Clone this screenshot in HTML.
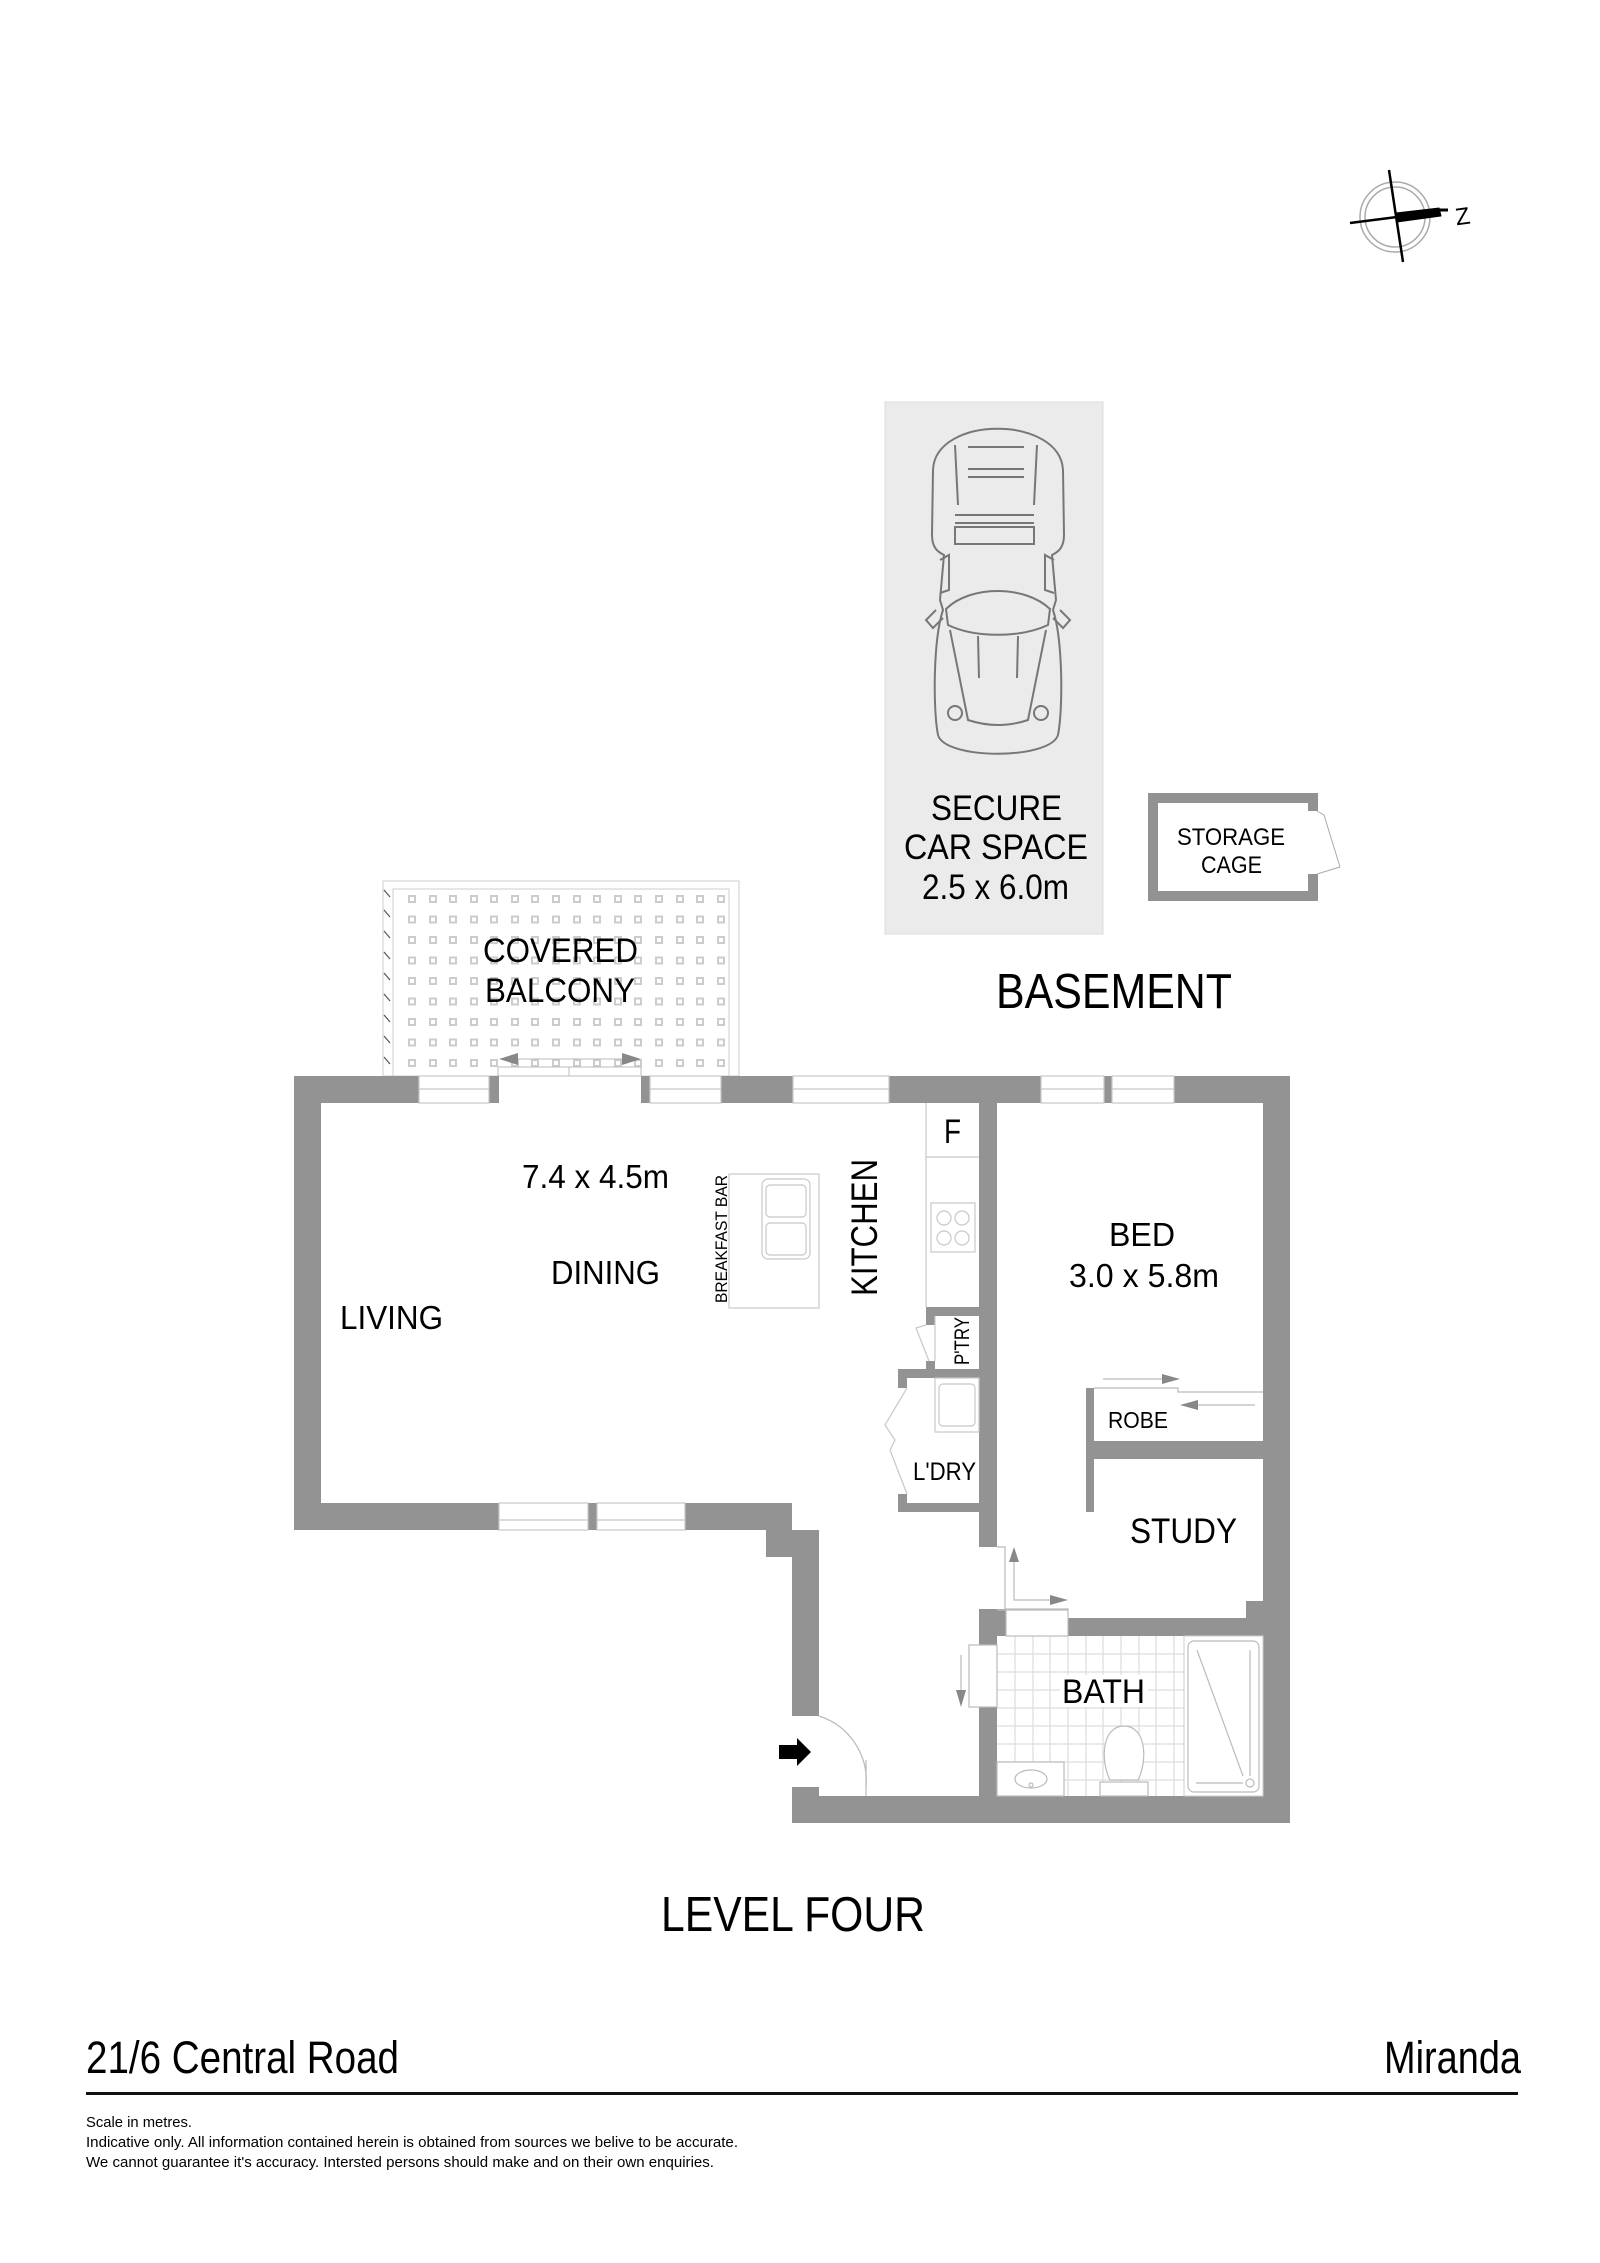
<!DOCTYPE html>
<html><head><meta charset="utf-8"><style>
html,body{margin:0;padding:0;background:#fff;}
svg{display:block;}
text{font-family:"Liberation Sans",sans-serif;fill:#000;}
</style></head><body>
<svg width="1600" height="2263" viewBox="0 0 1600 2263" xmlns="http://www.w3.org/2000/svg">
<!-- Compass -->
<g stroke="#000" fill="none">
<circle cx="1395" cy="217" r="35" stroke="#aaa" stroke-width="1.5"/>
<circle cx="1395" cy="217" r="30" stroke="#aaa" stroke-width="1.5"/>
<line x1="1389" y1="170" x2="1403" y2="262" stroke-width="2.5"/>
<line x1="1350" y1="223" x2="1397" y2="217" stroke-width="2.5"/>
<polygon points="1396,213 1439,208 1441,216 1397,222" fill="#000"/>
<line x1="1439" y1="210" x2="1448" y2="210" stroke-width="3"/>
</g>
<text x="1455" y="224" font-size="24" transform="rotate(-8 1466 214)">Z</text>

<!-- Car space -->
<rect x="885" y="402" width="218" height="532" fill="#ebebeb" stroke="#ddd"/>
<g fill="none" stroke="#777" stroke-width="2">
<path d="M933,470 C935,415 1060,415 1063,470 L1064,535 C1064,548 1058,552 1052,555 L1056,600 L1053,610 C1063,640 1063,710 1058,735 C1050,760 945,760 938,735 C933,710 933,640 943,610 L940,600 L944,555 C938,552 932,548 932,535 Z"/>
<path d="M946,609 C970,585 1025,585 1050,609 L1048,625 C1020,638 975,638 948,625 Z"/>
<path d="M950,630 L968,720 Q998,730 1028,720 L1046,630"/>
<line x1="978" y1="636" x2="979" y2="678"/><line x1="1018" y1="636" x2="1017" y2="678"/>
<circle cx="955" cy="713" r="7"/><circle cx="1041" cy="713" r="7"/>
<line x1="968" y1="447" x2="1024" y2="447"/><line x1="968" y1="469" x2="1024" y2="469"/><line x1="968" y1="477" x2="1024" y2="477"/>
<line x1="955" y1="445" x2="958" y2="505"/><line x1="1037" y1="445" x2="1034" y2="505"/>
<line x1="955" y1="515" x2="1034" y2="515"/><line x1="955" y1="523" x2="1034" y2="523"/>
<rect x="955" y="527" width="79" height="17"/>
<path d="M940,560 L949,555 L949,590 L940,593"/><path d="M1054,560 L1045,555 L1045,590 L1054,593"/>
<path d="M936,610 L926,620 L933,628 L943,618"/><path d="M1060,610 L1070,620 L1063,628 L1053,618"/>
</g>
<text x="931" y="820" font-size="35" textLength="131" lengthAdjust="spacingAndGlyphs">SECURE</text>
<text x="904" y="859" font-size="35" textLength="184" lengthAdjust="spacingAndGlyphs">CAR SPACE</text>
<text x="922" y="899" font-size="35" textLength="147" lengthAdjust="spacingAndGlyphs">2.5 x 6.0m</text>

<!-- Storage cage -->
<path d="M1313,811 L1313,798 L1153,798 L1153,896 L1313,896 L1313,874" fill="none" stroke="#929292" stroke-width="10"/>
<polyline points="1317,811 1324,815 1340,867 1317,874" fill="none" stroke="#aaa" stroke-width="1"/>
<text x="1177" y="845" font-size="24" textLength="108" lengthAdjust="spacingAndGlyphs">STORAGE</text>
<text x="1201" y="873" font-size="24" textLength="61" lengthAdjust="spacingAndGlyphs">CAGE</text>

<text x="996" y="1008" font-size="49" textLength="236" lengthAdjust="spacingAndGlyphs">BASEMENT</text>

<!-- Balcony -->
<rect x="383" y="881" width="356" height="195" fill="#fff" stroke="#ccc" stroke-width="1"/>
<rect x="393" y="889" width="336" height="187" fill="none" stroke="#ccc" stroke-width="1"/>
<g stroke="#555" stroke-width="1.2">
<line x1="384" y1="890" x2="390" y2="897"/><line x1="384" y1="910" x2="390" y2="917"/><line x1="384" y1="931" x2="390" y2="938"/><line x1="384" y1="952" x2="390" y2="959"/><line x1="384" y1="973" x2="390" y2="980"/><line x1="384" y1="994" x2="390" y2="1001"/><line x1="384" y1="1015" x2="390" y2="1022"/><line x1="384" y1="1036" x2="390" y2="1043"/><line x1="384" y1="1057" x2="390" y2="1064"/>
</g>
<g fill="none" stroke="#ccc" stroke-width="2">
<path id="sqrow" d="M409,896h6v6h-6zM430,896h6v6h-6zM450,896h6v6h-6zM471,896h6v6h-6zM491,896h6v6h-6zM512,896h6v6h-6zM532,896h6v6h-6zM553,896h6v6h-6zM574,896h6v6h-6zM594,896h6v6h-6zM615,896h6v6h-6zM635,896h6v6h-6zM656,896h6v6h-6zM677,896h6v6h-6zM697,896h6v6h-6zM718,896h6v6h-6z"/>
<use href="#sqrow" y="20.5"/><use href="#sqrow" y="41"/><use href="#sqrow" y="61.5"/><use href="#sqrow" y="82"/><use href="#sqrow" y="102.5"/><use href="#sqrow" y="123"/><use href="#sqrow" y="143.5"/><use href="#sqrow" y="164"/>
</g>
<text x="483" y="962" font-size="34" textLength="155" lengthAdjust="spacingAndGlyphs">COVERED</text>
<text x="485" y="1002" font-size="34" textLength="150" lengthAdjust="spacingAndGlyphs">BALCONY</text>
<rect x="498" y="1067" width="143" height="9" fill="#fff" stroke="#bbb" stroke-width="1"/>
<line x1="569" y1="1067" x2="569" y2="1076" stroke="#bbb"/>
<line x1="515" y1="1059" x2="625" y2="1059" stroke="#bbb"/>
<polygon points="499,1059 518,1053 518,1065" fill="#888"/>
<polygon points="641,1059 622,1053 622,1065" fill="#888"/>

<!-- Tiles in bath -->
<rect x="997" y="1636" width="187" height="160" fill="#fff"/>
<g stroke="#ddd" stroke-width="1.2">
<line x1="1015" y1="1636" x2="1015" y2="1796"/><line x1="1033" y1="1636" x2="1033" y2="1796"/><line x1="1050" y1="1636" x2="1050" y2="1796"/><line x1="1068" y1="1636" x2="1068" y2="1796"/><line x1="1086" y1="1636" x2="1086" y2="1796"/><line x1="1103" y1="1636" x2="1103" y2="1796"/><line x1="1121" y1="1636" x2="1121" y2="1796"/><line x1="1139" y1="1636" x2="1139" y2="1796"/><line x1="1156" y1="1636" x2="1156" y2="1796"/><line x1="1174" y1="1636" x2="1174" y2="1796"/>
<line x1="997" y1="1654" x2="1184" y2="1654"/><line x1="997" y1="1672" x2="1184" y2="1672"/><line x1="997" y1="1690" x2="1184" y2="1690"/><line x1="997" y1="1708" x2="1184" y2="1708"/><line x1="997" y1="1726" x2="1184" y2="1726"/><line x1="997" y1="1744" x2="1184" y2="1744"/><line x1="997" y1="1762" x2="1184" y2="1762"/><line x1="997" y1="1780" x2="1184" y2="1780"/>
</g>
<rect x="1060" y="1675" width="88" height="32" fill="#fff"/>

<!-- Walls -->
<g fill="#939393">
<rect x="294" y="1076" width="125" height="27"/>
<rect x="489" y="1076" width="10" height="27"/>
<rect x="641" y="1076" width="9" height="27"/>
<rect x="721" y="1076" width="72" height="27"/>
<rect x="889" y="1076" width="152" height="27"/>
<rect x="1104" y="1076" width="8" height="27"/>
<rect x="1174" y="1076" width="116" height="27"/>
<rect x="294" y="1076" width="27" height="454"/>
<rect x="294" y="1503" width="205" height="27"/>
<rect x="588" y="1503" width="9" height="27"/>
<rect x="685" y="1503" width="107" height="27"/>
<rect x="766" y="1503" width="26" height="54"/>
<rect x="792" y="1530" width="27" height="186"/>
<rect x="792" y="1787" width="27" height="36"/>
<rect x="819" y="1796" width="471" height="27"/>
<rect x="1263" y="1076" width="27" height="747"/>
<rect x="979" y="1076" width="18" height="471"/>
<rect x="979" y="1609" width="27" height="27"/>
<rect x="979" y="1636" width="18" height="9"/>
<rect x="979" y="1707" width="18" height="89"/>
<rect x="926" y="1307" width="53" height="9"/>
<rect x="926" y="1307" width="9" height="18"/>
<rect x="926" y="1361" width="9" height="9"/>
<rect x="898" y="1369" width="81" height="9"/>
<rect x="898" y="1369" width="9" height="19"/>
<rect x="898" y="1494" width="9" height="18"/>
<rect x="898" y="1503" width="81" height="9"/>
<rect x="1086" y="1388" width="8" height="124"/>
<rect x="1086" y="1441" width="177" height="18"/>
<rect x="1068" y="1618" width="195" height="18"/>
<rect x="1246" y="1601" width="17" height="17"/>
</g>

<!-- windows -->
<g fill="none" stroke="#c8c8c8" stroke-width="1.2">
<rect x="419" y="1076" width="70" height="27"/><line x1="419" y1="1089" x2="489" y2="1089"/>
<rect x="650" y="1076" width="71" height="27"/><line x1="650" y1="1089" x2="721" y2="1089"/>
<rect x="793" y="1076" width="96" height="27"/><line x1="793" y1="1089" x2="889" y2="1089"/>
<rect x="1041" y="1076" width="63" height="27"/><line x1="1041" y1="1089" x2="1104" y2="1089"/>
<rect x="1112" y="1076" width="62" height="27"/><line x1="1112" y1="1089" x2="1174" y2="1089"/>
<rect x="499" y="1503" width="89" height="27"/><line x1="499" y1="1520" x2="588" y2="1520"/>
<rect x="597" y="1503" width="88" height="27"/><line x1="597" y1="1520" x2="685" y2="1520"/>
</g>

<!-- Kitchen -->
<g fill="none" stroke="#c8c8c8" stroke-width="1.2">
<line x1="926" y1="1103" x2="926" y2="1307"/>
<line x1="926" y1="1157" x2="979" y2="1157"/>
<rect x="931" y="1203" width="44" height="49"/>
<circle cx="944" cy="1218" r="7"/><circle cx="962" cy="1218" r="7"/><circle cx="944" cy="1238" r="7"/><circle cx="962" cy="1238" r="7"/>
<rect x="729" y="1174" width="90" height="134"/>
<rect x="762" y="1179" width="48" height="80" rx="6"/>
<rect x="766" y="1185" width="40" height="32" rx="4"/>
<rect x="766" y="1223" width="40" height="32" rx="4"/>
<rect x="935" y="1378" width="44" height="54"/>
<rect x="939" y="1384" width="36" height="42" rx="4"/>
<polyline points="926,1325 916,1328 929,1361"/>
<polyline points="907,1388 885,1425 895,1440 890,1450 907,1494"/>
<line x1="935" y1="1316" x2="935" y2="1361"/>
</g>
<text x="944" y="1143" font-size="34" textLength="17" lengthAdjust="spacingAndGlyphs">F</text>
<text transform="translate(727,1303) rotate(-90)" font-size="17" textLength="128" lengthAdjust="spacingAndGlyphs">BREAKFAST BAR</text>
<text transform="translate(877,1296) rotate(-90)" font-size="37" textLength="137" lengthAdjust="spacingAndGlyphs">KITCHEN</text>
<text transform="translate(969,1365) rotate(-90)" font-size="21" textLength="48" lengthAdjust="spacingAndGlyphs">P'TRY</text>
<text x="913" y="1480" font-size="25" textLength="63" lengthAdjust="spacingAndGlyphs">L'DRY</text>

<text x="522" y="1188" font-size="33" textLength="147" lengthAdjust="spacingAndGlyphs">7.4 x 4.5m</text>
<text x="551" y="1284" font-size="33" textLength="109" lengthAdjust="spacingAndGlyphs">DINING</text>
<text x="340" y="1329" font-size="33" textLength="103" lengthAdjust="spacingAndGlyphs">LIVING</text>

<!-- Bed -->
<text x="1109" y="1246" font-size="33" textLength="66" lengthAdjust="spacingAndGlyphs">BED</text>
<text x="1069" y="1287" font-size="33" textLength="150" lengthAdjust="spacingAndGlyphs">3.0 x 5.8m</text>
<g stroke="#bbb" stroke-width="1.2" fill="none">
<line x1="1103" y1="1379" x2="1165" y2="1379"/>
<polyline points="1094,1388 1178,1388 1178,1392 1263,1392"/>
<line x1="1195" y1="1405" x2="1255" y2="1405"/>
</g>
<polygon points="1180,1379 1162,1374 1162,1384" fill="#888"/>
<polygon points="1180,1405 1198,1400 1198,1410" fill="#888"/>
<text x="1108" y="1428" font-size="23" textLength="60" lengthAdjust="spacingAndGlyphs">ROBE</text>
<text x="1130" y="1543" font-size="35" textLength="107" lengthAdjust="spacingAndGlyphs">STUDY</text>

<!-- study door -->
<g stroke="#bbb" stroke-width="1.2" fill="none">
<polyline points="997,1547 1005,1547 1005,1609"/>
<rect x="1006" y="1609" width="62" height="27"/>
<line x1="997" y1="1610" x2="1068" y2="1610"/>
<polyline points="1014,1560 1014,1600 1050,1600"/>
<rect x="969" y="1645" width="28" height="62"/>
<line x1="961" y1="1655" x2="961" y2="1690"/>
</g>
<polygon points="1014,1547 1009,1562 1019,1562" fill="#888"/>
<polygon points="1068,1600 1050,1595 1050,1605" fill="#888"/>
<polygon points="961,1707 956,1690 966,1690" fill="#888"/>

<!-- bath fixtures -->
<rect x="1184" y="1636" width="79" height="160" fill="#fff" stroke="#ccc"/>
<rect x="1188" y="1641" width="71" height="151" rx="6" fill="none" stroke="#bbb" stroke-width="1.2"/>
<g stroke="#bbb" stroke-width="1.2" fill="none">
<line x1="1197" y1="1650" x2="1243" y2="1776"/>
<line x1="1250" y1="1650" x2="1250" y2="1776"/>
<line x1="1196" y1="1783" x2="1243" y2="1783"/>
<circle cx="1250" cy="1783" r="4"/>
<rect x="997" y="1762" width="67" height="34" fill="#fff"/>
<ellipse cx="1031" cy="1779" rx="16" ry="9"/>
<circle cx="1031" cy="1785" r="2"/>
<rect x="1100" y="1782" width="48" height="14" fill="#fff"/>
<path d="M1110,1780 C1100,1760 1102,1726 1124,1726 C1146,1726 1148,1760 1138,1780 Z" fill="#fff"/>
</g>
<text x="1062" y="1703" font-size="34" textLength="83" lengthAdjust="spacingAndGlyphs">BATH</text>

<!-- entry door -->
<path d="M819,1716 A68,68 0 0 1 866,1787" fill="none" stroke="#bbb" stroke-width="1.2"/>
<line x1="866" y1="1760" x2="866" y2="1796" stroke="#bbb" stroke-width="1.2"/>
<polygon points="779,1745 797,1745 797,1738 811,1752 797,1766 797,1759 779,1759" fill="#000"/>

<text x="661" y="1931" font-size="49" textLength="264" lengthAdjust="spacingAndGlyphs">LEVEL FOUR</text>

<!-- footer -->
<text x="86" y="2073" font-size="45" textLength="313" lengthAdjust="spacingAndGlyphs">21/6 Central Road</text>
<text x="1384" y="2073" font-size="45" textLength="137" lengthAdjust="spacingAndGlyphs">Miranda</text>
<rect x="86" y="2092" width="1432" height="3" fill="#111"/>
<text x="86" y="2127" font-size="15" textLength="106" lengthAdjust="spacingAndGlyphs">Scale in metres.</text>
<text x="86" y="2147" font-size="15" textLength="652" lengthAdjust="spacingAndGlyphs">Indicative only. All information contained herein is obtained from sources we belive to be accurate.</text>
<text x="86" y="2167" font-size="15" textLength="628" lengthAdjust="spacingAndGlyphs">We cannot guarantee it's accuracy. Intersted persons should make and on their own enquiries.</text>
</svg>
</body></html>
